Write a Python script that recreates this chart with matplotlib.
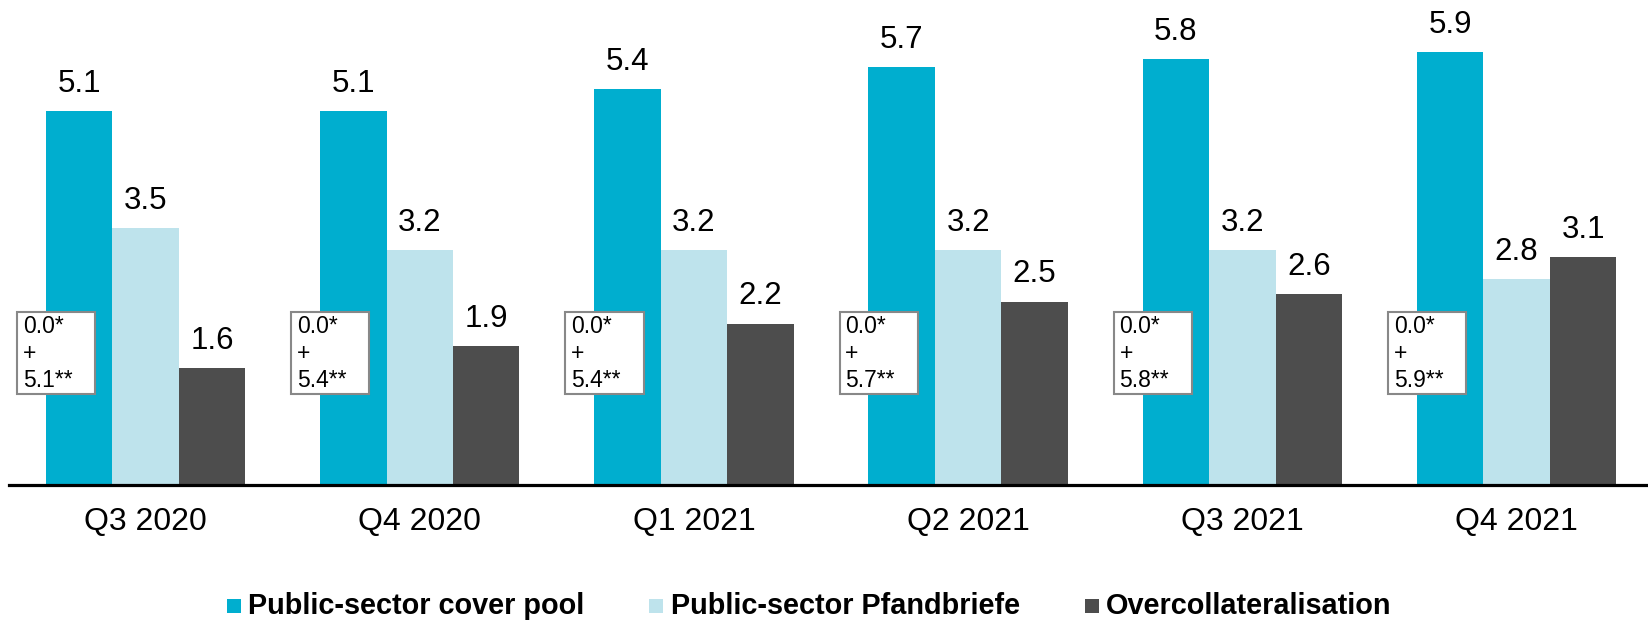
import matplotlib
matplotlib.use("Agg")
import matplotlib.pyplot as plt
from matplotlib.patches import Rectangle
import numpy as np

plt.rcParams['font.family'] = ['Liberation Sans', 'DejaVu Sans']

categories = ["Q3 2020", "Q4 2020", "Q1 2021", "Q2 2021", "Q3 2021", "Q4 2021"]
cover_pool = [5.1, 5.1, 5.4, 5.7, 5.8, 5.9]
pfandbriefe = [3.5, 3.2, 3.2, 3.2, 3.2, 2.8]
overcollat = [1.6, 1.9, 2.2, 2.5, 2.6, 3.1]
box_first = ["0.0*"] * 6
box_second = ["5.1**", "5.4**", "5.4**", "5.7**", "5.8**", "5.9**"]
series_names = ["Public-sector cover pool", "Public-sector Pfandbriefe", "Overcollateralisation"]
colors = ["#00AECF", "#BEE3EC", "#4D4D4D"]

W, H = 1649, 620
fig = plt.figure(figsize=(W / 100, H / 100), dpi=100)
base_px = 485
ax = fig.add_axes([9 / W, (H - base_px) / H, 1 - 9 / W, base_px / H])

x = np.arange(len(categories))
bw = 0.2425
series = [cover_pool, pfandbriefe, overcollat]
for i, (vals, c) in enumerate(zip(series, colors)):
    bars = ax.bar(x + (i - 1) * bw, vals, width=bw, color=c, linewidth=0)
    for b, v in zip(bars, vals):
        ax.annotate(f"{v:.1f}", (b.get_x() + b.get_width() / 2, v),
                    xytext=(0, 13.7), textcoords="offset points",
                    ha="center", va="baseline", fontsize=22.5, color="black")

# annotation boxes
for xi, t1, t2 in zip(x, box_first, box_second):
    ax.add_patch(Rectangle((xi - 0.469, 1.24), 0.285, 1.12, facecolor="white",
                           edgecolor="#888888", linewidth=1.5, zorder=3))
    ax.text(xi - 0.448, 2.31, f"{t1}\n+\n{t2}", ha="left", va="top",
            fontsize=16.5, linespacing=1.2, zorder=4)

ax.set_xlim(-0.498, 5.483)
ax.set_ylim(0, base_px / 73.4)
for s in ["top", "right", "left"]:
    ax.spines[s].set_visible(False)
ax.spines["bottom"].set_linewidth(2.3)
ax.spines["bottom"].set_color("black")
ax.set_yticks([])
ax.set_xticks(x)
ax.set_xticklabels(categories, fontsize=23)
ax.tick_params(axis="x", length=0, pad=16)

# legend
leg_y = 1 - 606 / H
marker_x = [227, 649, 1085]
text_x = [248, 671, 1106]
sq = 14
for mx, tx, name, c in zip(marker_x, text_x, series_names, colors):
    fig.patches.append(Rectangle((mx / W, (H - 606 - sq / 2) / H), sq / W, sq / H,
                                 facecolor=c, linewidth=0, transform=fig.transFigure))
    fig.text(tx / W, leg_y, name, ha="left", va="center", fontsize=20.8,
             fontweight="bold")

fig.savefig("out.png", dpi=100)
